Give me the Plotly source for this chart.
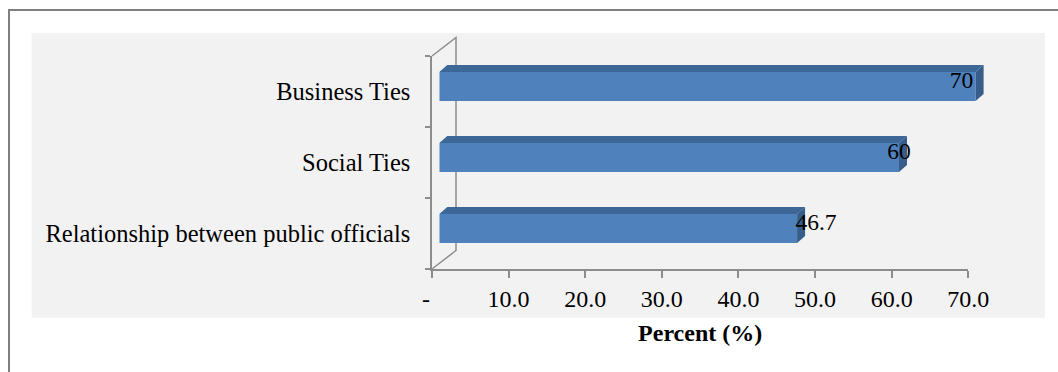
import plotly.graph_objects as go

# ---------------- data ----------------
categories = ["Relationship between public officials", "Social Ties", "Business Ties"]
values = [46.7, 60, 70]
value_labels = ["46.7", "60", "70"]
x_tickvals = [0, 10, 20, 30, 40, 50, 60, 70]
x_ticktext = ["-\u00a0\u00a0", "10.0", "20.0", "30.0", "40.0", "50.0", "60.0", "70.0"]
x_title = "<b>Percent (%)</b>"

# ---------------- geometry (px) ----------------
W, H = 1058, 372
PL, PR, PT, PB = 432, 1000, 30, 269      # plot area
AX_END = 968.3                            # pixel of the last x tick on the front axis
Y_TOP = 56                                # top of front y axis
XMAX = 70
pw, ph = PR - PL, PB - PT
ppx = (AX_END - PL) / XMAX                # px per x unit
ppy = (PB - Y_TOP) / len(categories)      # px per category
BAR_SHIFT = (7.3, 5.0)                    # bar front plane vs front axis plane
DEPTH = (8.0, 7.0)                        # bar depth (right, up)
WALL = (24.0, 18.5)                       # back wall offset
BAR_W = 29 / 71
LABEL_A, LABEL_B = 524.6, 6.24            # label placement scale (px, px/unit)
LABEL_UP = 4.0

FONT = "Liberation Serif, Times New Roman, serif"
AXIS_COLOR = "#8C8C8C"
FRONT, TOP, SIDE = "#4F81BD", "#3C6796", "#385D8A"


def fx(px):
    return (px - PL) / pw


def fy(py):
    return (PB - py) / ph


pos = list(range(len(categories)))
dx, dy = DEPTH[0] / ppx, DEPTH[1] / ppy
h = BAR_W / 2

fig = go.Figure()
# empty trace so the front (visible) axes are created
fig.add_trace(go.Scatter(x=[None], y=[None], xaxis="x", yaxis="y", mode="markers",
                         hoverinfo="skip", showlegend=False))
fig.add_trace(go.Bar(x=values, y=pos, orientation="h", xaxis="x2", yaxis="y2",
                     width=BAR_W, marker=dict(color=FRONT, line=dict(width=0)),
                     hoverinfo="skip", showlegend=False))
for i, v in zip(pos, values):
    fig.add_trace(go.Scatter(x=[0, v, v + dx, dx, 0],
                             y=[i + h, i + h, i + h + dy, i + h + dy, i + h],
                             xaxis="x2", yaxis="y2", mode="lines", fill="toself",
                             fillcolor=TOP, line=dict(width=0), hoverinfo="skip",
                             showlegend=False))
    fig.add_trace(go.Scatter(x=[v, v + dx, v + dx, v, v],
                             y=[i - h, i - h + dy, i + h + dy, i + h, i - h],
                             xaxis="x2", yaxis="y2", mode="lines", fill="toself",
                             fillcolor=SIDE, line=dict(width=0), hoverinfo="skip",
                             showlegend=False))
fig.add_trace(go.Scatter(x=values, y=[p + LABEL_UP / ppy for p in pos], text=value_labels,
                         mode="text", textposition="middle center", xaxis="x3", yaxis="y2",
                         textfont=dict(family=FONT, size=23.5, color="#000000"),
                         hoverinfo="skip", showlegend=False))

fig.update_layout(
    width=W, height=H, autosize=False,
    margin=dict(l=PL, r=W - PR, t=PT, b=H - PB, pad=0),
    paper_bgcolor="white", plot_bgcolor="rgba(0,0,0,0)",
    showlegend=False,
    xaxis=dict(domain=[0, fx(AX_END)], range=[0, XMAX], anchor="y",
               showline=True, linecolor=AXIS_COLOR, linewidth=1.5,
               ticks="outside", ticklen=7, tickwidth=1.5, tickcolor=AXIS_COLOR,
               tickmode="array", tickvals=x_tickvals, ticktext=x_ticktext,
               tickfont=dict(family=FONT, size=24, color="#000000"),
               ticklabelstandoff=0,
               showgrid=False, zeroline=False,
               title=dict(text=x_title, font=dict(family=FONT, size=24, color="#000000"),
                          standoff=14)),
    yaxis=dict(domain=[0, fy(Y_TOP)], range=[-0.5, len(categories) - 0.5], anchor="x",
               showline=True, linecolor=AXIS_COLOR, linewidth=1.5,
               tickmode="array", tickvals=pos, ticktext=categories, ticks="",
               tickfont=dict(family=FONT, size=24.5, color="#000000"),
               ticklabelstandoff=15,
               minor=dict(tickmode="array", tickvals=[p - 0.5 for p in pos] + [pos[-1] + 0.5],
                          ticks="outside", ticklen=5, tickwidth=1.5, tickcolor=AXIS_COLOR,
                          showgrid=False),
               showgrid=False, zeroline=False),
    xaxis2=dict(domain=[fx(PL + BAR_SHIFT[0]), 1], range=[0, (PR - PL - BAR_SHIFT[0]) / ppx],
                anchor="y2", visible=False),
    yaxis2=dict(domain=[fy(PB - BAR_SHIFT[1]), fy(Y_TOP - BAR_SHIFT[1])],
                range=[-0.5, len(categories) - 0.5], anchor="x2", visible=False),
    xaxis3=dict(domain=[fx(LABEL_A), 1], range=[0, (PR - LABEL_A) / LABEL_B],
                anchor="y2", visible=False),
)

shapes = [
    # chart-area background
    dict(type="rect", xref="paper", yref="paper", x0=fx(31.7), x1=fx(1045),
         y0=fy(317.7), y1=fy(33), fillcolor="#F2F2F2", line=dict(width=0), layer="below"),
    # outer border
    dict(type="rect", xref="paper", yref="paper", x0=fx(9), x1=fx(W + 20),
         y0=fy(H + 20), y1=fy(10), fillcolor="rgba(0,0,0,0)",
         line=dict(color="#7F7F7F", width=2), layer="below"),
    # back wall of the 3D frame
    dict(type="path", xref="paper", yref="paper", layer="below",
         path=(f"M {fx(PL)},{fy(Y_TOP)} L {fx(PL + WALL[0])},{fy(Y_TOP - WALL[1])} "
               f"L {fx(PL + WALL[0])},{fy(PB - WALL[1])} L {fx(PL)},{fy(PB)}"),
         line=dict(color=AXIS_COLOR, width=1.5)),
]
fig.update_layout(shapes=shapes)

fig.write_html("out.html")
